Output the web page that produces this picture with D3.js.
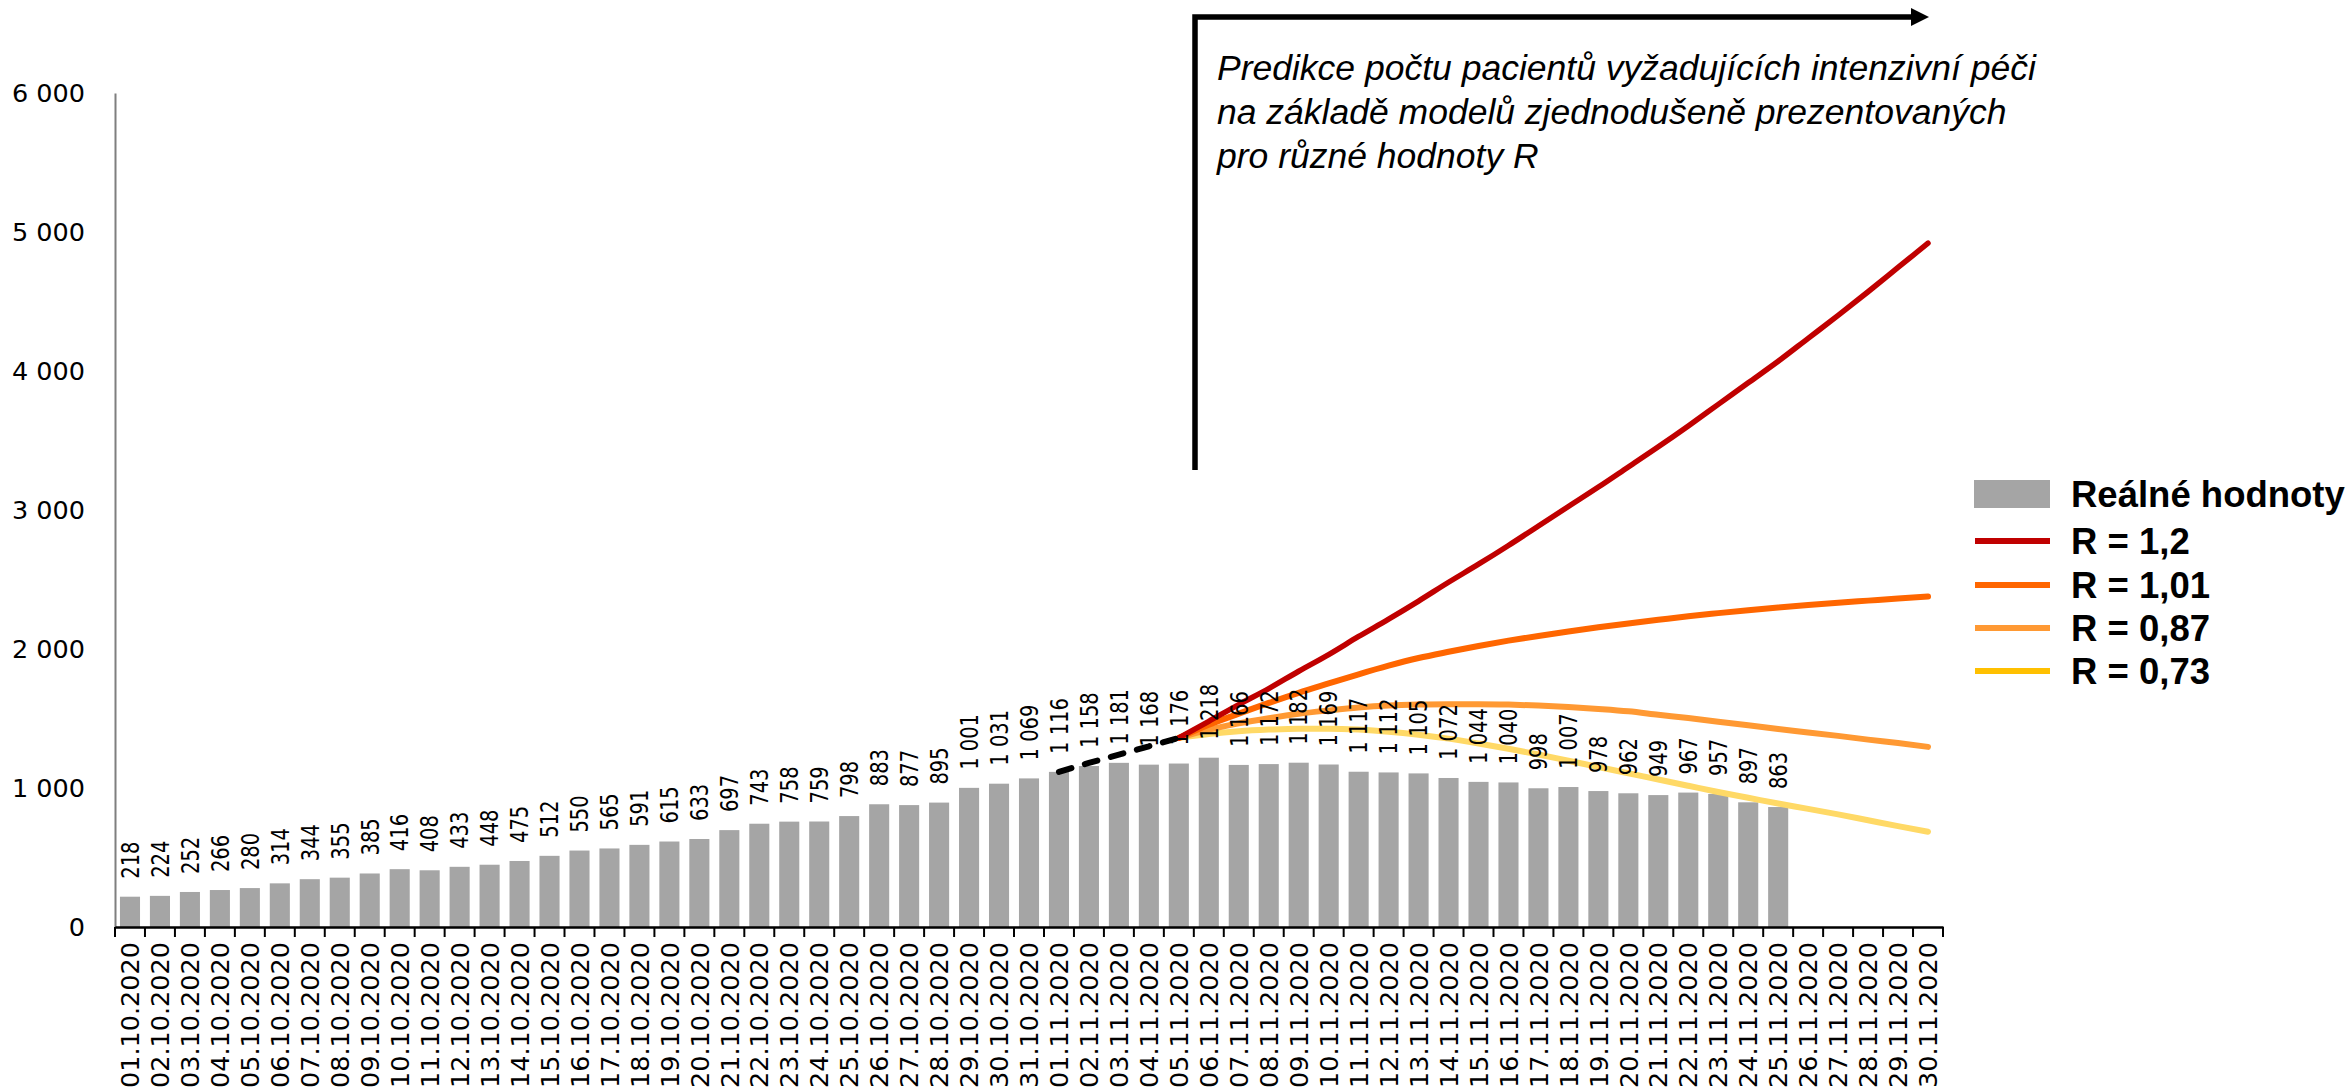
<!DOCTYPE html>
<html>
<head>
<meta charset="utf-8">
<script src="https://cdn.jsdelivr.net/npm/d3@7"></script>
<style>
  body { margin: 0; background: #fff; }
</style>
</head>
<body>
<div id="chart"></div>
<script>
var svgWidth = 2351;
var svgHeight = 1092;

// category labels (x axis)
var dates = [
  "01.10.2020", "02.10.2020", "03.10.2020", "04.10.2020", "05.10.2020", "06.10.2020", "07.10.2020",
  "08.10.2020", "09.10.2020", "10.10.2020", "11.10.2020", "12.10.2020", "13.10.2020", "14.10.2020",
  "15.10.2020", "16.10.2020", "17.10.2020", "18.10.2020", "19.10.2020", "20.10.2020", "21.10.2020",
  "22.10.2020", "23.10.2020", "24.10.2020", "25.10.2020", "26.10.2020", "27.10.2020", "28.10.2020",
  "29.10.2020", "30.10.2020", "31.10.2020", "01.11.2020", "02.11.2020", "03.11.2020", "04.11.2020",
  "05.11.2020", "06.11.2020", "07.11.2020", "08.11.2020", "09.11.2020", "10.11.2020", "11.11.2020",
  "12.11.2020", "13.11.2020", "14.11.2020", "15.11.2020", "16.11.2020", "17.11.2020", "18.11.2020",
  "19.11.2020", "20.11.2020", "21.11.2020", "22.11.2020", "23.11.2020", "24.11.2020", "25.11.2020",
  "26.11.2020", "27.11.2020", "28.11.2020", "29.11.2020", "30.11.2020"
];

// real values, 01.10. - 25.11.
var realValues = [
  218, 224, 252, 266, 280, 314, 344, 355, 385, 416, 408, 433, 448, 475, 512, 550, 565, 591,
  615, 633, 697, 743, 758, 759, 798, 883, 877, 895, 1001, 1031, 1069,
  1116, 1158, 1181, 1168, 1176, 1218, 1166, 1172, 1182, 1169, 1117, 1112, 1105, 1072, 1044,
  1040, 998, 1007, 978, 962, 949, 967, 957, 897, 863
];

// dashed trend 01.11. - 05.11.
var trendDates = ["01.11.2020", "02.11.2020", "03.11.2020", "04.11.2020", "05.11.2020"];
var trendValues = [1116, 1180, 1240, 1300, 1360];

// predictions 05.11. - 30.11.
var predDates = dates.slice(35);
var r120 = [1360, 1480, 1600, 1715, 1840, 1960, 2090, 2215, 2345, 2480, 2610, 2745, 2885,
            3025, 3165, 3310, 3455, 3605, 3760, 3915, 4070, 4235, 4400, 4570, 4745, 4920];
var r101 = [1360, 1455, 1535, 1612, 1685, 1752, 1818, 1880, 1935, 1980, 2022, 2060, 2094,
            2126, 2156, 2184, 2210, 2236, 2258, 2279, 2298, 2316, 2333, 2348, 2363, 2377];
var r087 = [1360, 1420, 1465, 1502, 1534, 1558, 1579, 1593, 1600, 1603, 1603, 1600, 1593,
            1583, 1569, 1552, 1527, 1503, 1476, 1451, 1424, 1400, 1375, 1348, 1324, 1296];
var r073 = [1360, 1388, 1408, 1420, 1427, 1427, 1420, 1405, 1383, 1355, 1320, 1282, 1241,
            1196, 1151, 1106, 1061, 1016, 971, 930, 888, 850, 810, 768, 726, 685];

var yTicks = [0, 1000, 2000, 3000, 4000, 5000, 6000];

var legendLabels = ["Reálné hodnoty", "R = 1,2", "R = 1,01", "R = 0,87", "R = 0,73"];
var titleLines = [
  "Predikce počtu pacientů vyžadujících intenzivní péči",
  "na základě modelů zjednodušeně prezentovaných",
  "pro různé hodnoty R"
];

var series = [
  { values: r073, color: "#FFD966", legendColor: "#FFC000", width: 6 },
  { values: r087, color: "#FF9933", legendColor: "#FF9933", width: 6 },
  { values: r101, color: "#FF6600", legendColor: "#FF6600", width: 6 },
  { values: r120, color: "#C00000", legendColor: "#C00000", width: 5.5 }
];

var fmt = d3.formatLocale({ decimal: ",", thousands: " ", grouping: [3], currency: ["", ""] }).format(",d");

var margin = { top: 93, left: 115, right: 408, bottom: 165 };

var svg = d3.select("#chart")
  .append("svg")
  .attr("width", svgWidth)
  .attr("height", svgHeight);

var x = d3.scaleBand()
  .domain(dates)
  .range([margin.left, svgWidth - margin.right])
  .paddingInner(0.33)
  .paddingOuter(0.165);

var y = d3.scaleLinear()
  .domain([0, 6000])
  .range([svgHeight - margin.bottom, margin.top]);

var bw = x.bandwidth();
var cx = d => x(d) + bw / 2;

// Bars
svg.append("g").selectAll("rect")
  .data(realValues)
  .enter()
  .append("rect")
  .attr("x", (d, i) => x(dates[i]))
  .attr("y", d => y(d))
  .attr("width", bw)
  .attr("height", d => y(0) - y(d))
  .attr("fill", "#A5A5A5");

// Y axis
var yAxis = svg.append("g")
  .attr("transform", `translate(${margin.left},0)`)
  .call(d3.axisLeft(y).tickValues(yTicks).tickSize(0).tickSizeOuter(0).tickPadding(30).tickFormat(fmt));
yAxis.attr("font-family", "'DejaVu Sans', Verdana, sans-serif").attr("font-size", 25.5);
yAxis.select(".domain").attr("stroke", "#7f7f7f").attr("stroke-width", 2);
yAxis.selectAll("text").attr("fill", "#000");

// X axis
var xAxis = svg.append("g")
  .attr("transform", `translate(0,${y(0)})`)
  .call(d3.axisBottom(x).tickSize(0).tickSizeOuter(0));
xAxis.attr("font-family", "'DejaVu Sans', Verdana, sans-serif").attr("font-size", 25.5);
xAxis.select(".domain").attr("stroke", "#000").attr("stroke-width", 2.5);
xAxis.selectAll("text")
  .attr("fill", "#000")
  .attr("transform", "rotate(-90)")
  .attr("text-anchor", "end")
  .attr("x", -15)
  .attr("y", 0)
  .attr("dy", "0.36em");

// tick marks on the category borders
var borders = dates.map(d => x(d) - x.step() * x.paddingOuter());
borders.push(x.range()[1]);
svg.append("g").selectAll("line")
  .data(borders)
  .enter()
  .append("line")
  .attr("x1", d => d).attr("x2", d => d)
  .attr("y1", y(0)).attr("y2", y(0) + 10)
  .attr("stroke", "#000")
  .attr("stroke-width", 2);

// Prediction lines
var line = d3.line()
  .x(d => cx(d.date))
  .y(d => y(d.value))
  .curve(d3.curveMonotoneX);

series.forEach(function(s) {
  svg.append("path")
    .datum(s.values.map((v, i) => ({ date: predDates[i], value: v })))
    .attr("d", line)
    .attr("fill", "none")
    .attr("stroke", s.color)
    .attr("stroke-width", s.width)
    .attr("stroke-linecap", "round");
});

// Dashed trend
svg.append("path")
  .datum(trendValues.map((v, i) => ({ date: trendDates[i], value: v })))
  .attr("d", line)
  .attr("fill", "none")
  .attr("stroke", "#000")
  .attr("stroke-width", 6)
  .attr("stroke-dasharray", "13,14")
  .attr("stroke-linecap", "round");

// Data labels
svg.append("g").selectAll("text")
  .data(realValues)
  .enter()
  .append("text")
  .attr("transform", (d, i) => `translate(${cx(dates[i])},${y(d) - 18}) scale(1.25,1) rotate(-90)`)
  .attr("dy", "0.36em")
  .attr("font-family", "'DejaVu Sans', Verdana, sans-serif")
  .attr("font-size", 19.5)
  .attr("fill", "#000")
  .text(d => fmt(d));

// Arrow + title
svg.append("path")
  .attr("d", "M1195,470 V17 H1914")
  .attr("fill", "none")
  .attr("stroke", "#000")
  .attr("stroke-width", 5.5);
svg.append("path")
  .attr("d", "M1911,8 L1929,17 L1911,26 Z")
  .attr("fill", "#000");

svg.append("g").selectAll("text")
  .data(titleLines)
  .enter()
  .append("text")
  .attr("x", 1217)
  .attr("y", (d, i) => 80 + i * 44)
  .attr("font-family", "'Liberation Sans', Arial, sans-serif")
  .attr("font-style", "italic")
  .attr("font-size", 35.5)
  .attr("fill", "#000")
  .text(d => d);

// Legend
var legend = svg.append("g");
var legendRows = [494, 541, 585, 628, 671];
legend.append("rect")
  .attr("x", 1974).attr("y", legendRows[0] - 14)
  .attr("width", 76).attr("height", 28)
  .attr("fill", "#A5A5A5");
series.slice().reverse().forEach(function(s, i) {
  legend.append("line")
    .attr("x1", 1975).attr("x2", 2050)
    .attr("y1", legendRows[i + 1]).attr("y2", legendRows[i + 1])
    .attr("stroke", s.legendColor)
    .attr("stroke-width", 6);
});
legend.selectAll("text")
  .data(legendLabels)
  .enter()
  .append("text")
  .attr("x", 2071)
  .attr("y", (d, i) => legendRows[i])
  .attr("dy", "0.36em")
  .attr("font-family", "'Liberation Sans', Arial, sans-serif")
  .attr("font-weight", "bold")
  .attr("font-size", 36.5)
  .attr("fill", "#000")
  .text(d => d);
</script>
</body>
</html>
